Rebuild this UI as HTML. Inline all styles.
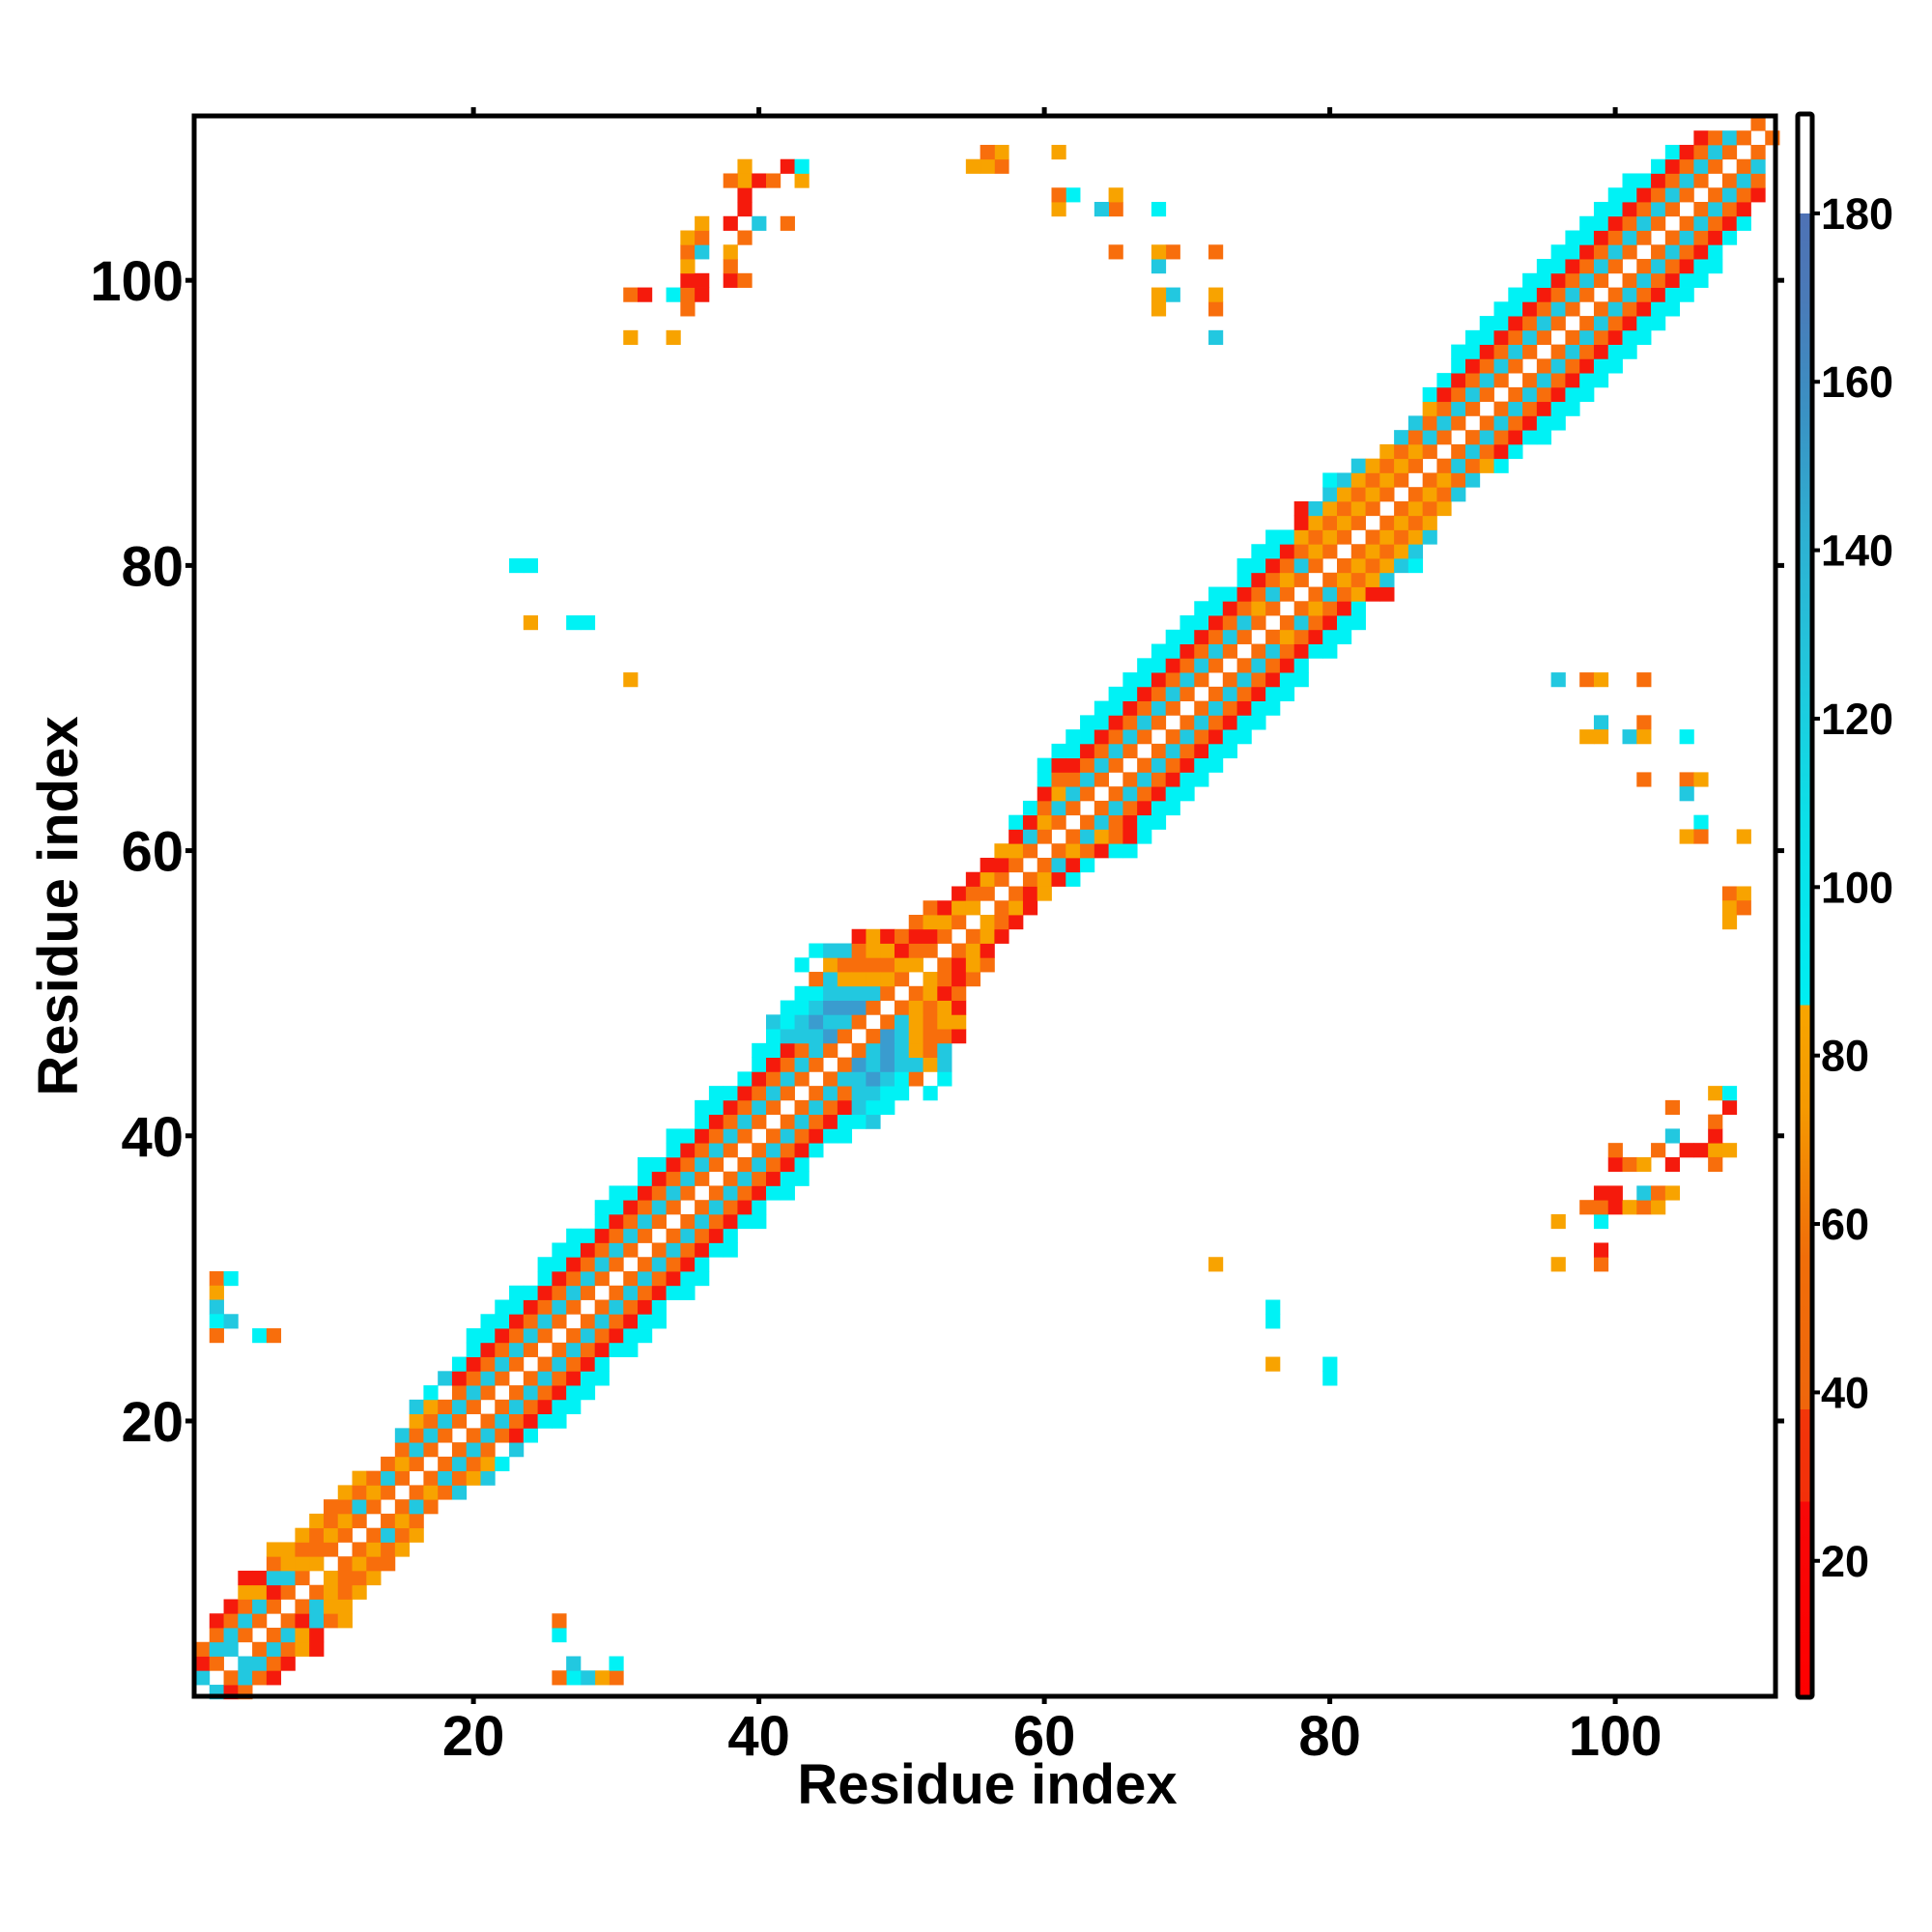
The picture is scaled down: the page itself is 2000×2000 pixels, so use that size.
<!DOCTYPE html>
<html><head><meta charset="utf-8"><style>
html,body{margin:0;padding:0;background:#fff;}
svg{display:block;font-family:"Liberation Sans",sans-serif;font-weight:bold;}
</style></head><body>
<svg id="chart" width="2000" height="2000" viewBox="0 0 2000 2000" xmlns="http://www.w3.org/2000/svg">
<rect width="2000" height="2000" fill="#fff"/>
<g id="cells"></g>
<g id="axes"></g>
<g id="cbar"></g>
<text x="1022" y="1867" font-size="58" text-anchor="middle">Residue index</text>
<text x="0" y="0" font-size="58" text-anchor="middle" transform="translate(80,938) rotate(-90)">Residue index</text>
</svg>
<script>
// Band data: for residue i (index 0 -> residue 1), codes at offsets j=i+1, i+2, ...
const bandRows = [
"tro","otor","ttor","otoyr","otyr","ortoy","otyy","oyoy","yooy","oyoo",
"oyoy","otoy","oyo","oto","oyot","otoyt","otoyc","oto.t","otorc","otorcc",
"otorcc","otorcc","otorcc","otorc","otorcc","otorcc","otorcc","otorc","otorcc","otorcc",
"otorc","otorcc","otorc","otorcc","otorc","otorcc","otorcc","otorc","otorc","otorcc",
"otorcct","otortcc","otottcc.c","ottbtco.c","obtbttyt","otbtyot","obtyoor","otyoyy","oyoyr","oyro",
"yoro","oryo","oyr","oyr","yor","oyr","ory","oyrc","otrc","oyorcc",
"otyorc","otorcc","otorcc","otorcc","otorcc","otorcc","otorcc","otorcc","otorcc","otorcc",
"otorcc","otorcc","otorc","otorcc","oyorcc","otorcc","oyorc","otoyrr","oyoyt","oyoytc",
"oyoyt","oyoyt","oyoy","oyoy","oyot","oyot","otoyc","otorc","otorcc","otorcc",
"otorcc","otorcc","otorcc","otorcc","otorcc","otorcc","otorcc","otorcc","otorcc","otorcc",
"otorcc","otorc","otorc","otorc","otor","otor","oto","ot","o","o",""
];
// Off-diagonal contacts [i, j, code] (mirrored)
const contactI = [34,31,31,32,34,35,35,35,35,35,35,36,36,36,36,36,38,38,38,38,39,39,39,39,39,39,40,40,41,42,42,43,43,38,
72,72,72,72,68,69,68,68,69,68,68,65,65,65,64,62,61,61,61,57,57,56,56,55,
2,3,2,2,2,3,2,5,6, 80,80,76,76,76,72];
const contactJ = [96,96,99,99,99,98,99,100,101,102,103,99,100,102,103,104,100,101,102,104,100,103,105,106,107,108,104,107,107,104,108,107,108,107,
96,98,99,102,98,99,99,101,102,102,105,102,105,106,105,106,105,106,109,108,109,108,109,108,
30,30,29,28,27,27,26,26,26, 23,24,24,27,28,31];
const contactCode = ["y","y","o","r","c","o","o","r","y","o","y","r","r","t","o","y","r","o","y","r","o","o","r","r","y","y","t","r","o","o","r","y","c","o",
"t","o","y","o","y","t","y","t","o","y","c","o","o","y","t","c","y","o","y","o","y","y","o","y",
"o","c","y","t","c","t","o","c","o", "c","c","y","c","c","y"];
const xTicks = [20,40,60,80,100];
const yTicks = [20,40,60,80,100];
const cbTicks = [20,40,60,80,100,120,140,160,180];

const colors = {r:"#f51a0c", o:"#f86e0c", y:"#f8a300", t:"#22c8e0", c:"#00f2f5", b:"#3a9ccf"};
const X0=202, CW=14.775, YB=1758.8, CH=14.76;
function xScale(r){return X0+(r-1)*CW;}
function yScale(r){return YB-r*CH;}
const NS="http://www.w3.org/2000/svg";
function mk(tag,attrs,parent){const e=document.createElementNS(NS,tag);for(const k in attrs)e.setAttribute(k,attrs[k]);parent.appendChild(e);return e;}
const cells=document.getElementById('cells');
function cell(i,j,code){
  if(code==='.'||!colors[code])return;
  const r=mk('rect',{x:xScale(j),y:yScale(i),width:CW+0.4,height:CH+0.4,fill:colors[code]},cells);
  
  
}
bandRows.forEach((s,idx)=>{const i=idx+1;for(let k=0;k<s.length;k++){const j=i+k+1;if(j>111)break;cell(i,j,s[k]);cell(j,i,s[k]);}});
contactI.forEach((i,n)=>{cell(i,contactJ[n],contactCode[n]);cell(contactJ[n],i,contactCode[n]);});

const axes=document.getElementById('axes');
const fr=mk('rect',{x:201,y:120,width:1637,height:1636,fill:"none",stroke:"#000","stroke-width":5},axes);


xTicks.forEach(v=>{
  const cx=xScale(v)+CW/2;
  mk('line',{x1:cx,x2:cx,y1:120,y2:111,stroke:"#000","stroke-width":5},axes);
  mk('line',{x1:cx,x2:cx,y1:1756,y2:1764,stroke:"#000","stroke-width":5},axes);
  const t=mk('text',{x:cx,y:1817,"font-size":58,"text-anchor":"middle"},axes);
  t.textContent=v;
  
  
});
yTicks.forEach(v=>{
  const cy=yScale(v)+CH/2;
  mk('line',{x1:201,x2:192,y1:cy,y2:cy,stroke:"#000","stroke-width":5},axes);
  mk('line',{x1:1838,x2:1847,y1:cy,y2:cy,stroke:"#000","stroke-width":5},axes);
  const t=mk('text',{x:190,y:cy+21,"font-size":58,"text-anchor":"end"},axes);
  t.textContent=v;
  
  
});

// Colorbar
const cb=document.getElementById('cbar');
const VMIN=3.8,VMAX=191.8,CBT=118,CBB=1757;
function cbY(v){return CBB-(v-VMIN)/(VMAX-VMIN)*(CBB-CBT);}
const stops=[[3.8,"#ff0000"],[27,"#f80808"],[27,"#f3300a"],[38,"#f3360a"],[38,"#ef660c"],[56,"#f06e0a"],[66,"#f28506"],[74,"#f59a02"],[86,"#f8a500"],[86,"#00eef2"],[108,"#0ce0e8"],[126,"#22c6dc"],[142,"#2eb0d2"],[156,"#3a92c4"],[170,"#4a7ab8"],[180,"#4e72b5"],[180,"#ffffff"],[191.8,"#ffffff"]];
const defs=mk('defs',{},cb);
const lg=mk('linearGradient',{id:"cbg",x1:0,y1:1,x2:0,y2:0},defs);
stops.forEach(s=>mk('stop',{offset:((s[0]-VMIN)/(VMAX-VMIN)).toFixed(4),"stop-color":s[1]},lg));
const cr=mk('rect',{x:1861,y:CBT,width:15,height:CBB-CBT,fill:"url(#cbg)",stroke:"#000","stroke-width":5,rx:2},cb);


cbTicks.forEach(v=>{
  const y=cbY(v);
  mk('line',{x1:1876,x2:1884,y1:y,y2:y,stroke:"#000","stroke-width":4},cb);
  const t=mk('text',{x:1885,y:y+16,"font-size":45,"text-anchor":"start"},cb);
  t.textContent=v;
  
  
});
</script>
</body></html>
